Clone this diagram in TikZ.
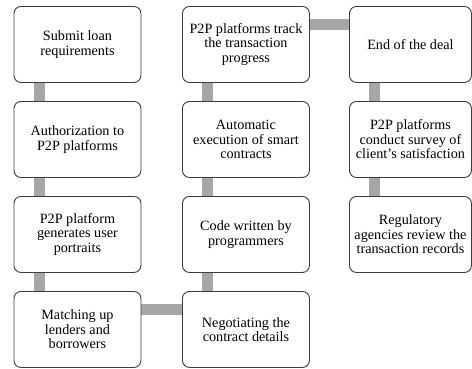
\documentclass[tikz,border=0pt]{standalone}
\usepackage{fontspec}
\setmainfont{Liberation Serif}
\usetikzlibrary{backgrounds}
\definecolor{boxline}{HTML}{3C3C3C}
\definecolor{linkgray}{HTML}{A6A6A6}
\tikzset{
  stepbox/.style={draw=boxline, line width=0.9pt, fill=white, rounded corners=7pt,
    anchor=north west, inner sep=0pt, align=center, minimum height=76pt,
    font=\fontsize{14.2}{14.6}\selectfont},
  wide/.style={minimum width=127pt},
  narrow/.style={minimum width=122pt},
  link/.style={draw=linkgray, line width=11pt},
  % vertical bar runs 25.5pt in from the left edge, horizontal bar 18.5pt below the top
  vdown/.style={xshift=25.5pt},
  hright/.style={yshift=-18.5pt},
}
\begin{document}
\begin{tikzpicture}[x=1pt,y=-1pt]
\useasboundingbox (0,0) rectangle (472,368);
% first column, top to bottom
\node[stepbox,wide] (a1) at (13.5,6)   {Submit loan\\requirements};
\node[stepbox,wide] (a2) at (13.5,101) {Authorization to\\P2P platforms};
\node[stepbox,wide] (a3) at (13.5,196) {P2P platform\\generates user\\portraits};
\node[stepbox,wide] (a4) at (13.5,291) {Matching up\\lenders and\\borrowers};
% second column, bottom to top
\node[stepbox,wide] (b4) at (182,291) {Negotiating the\\contract details};
\node[stepbox,wide] (b3) at (182,196) {Code written by\\programmers};
\node[stepbox,wide] (b2) at (182,101) {Automatic\\execution of smart\\contracts};
\node[stepbox,wide] (b1) at (182,6)   {P2P platforms track\\the transaction\\progress};
% third column, top to bottom
\node[stepbox,narrow] (c1) at (349,6)   {End of the deal};
\node[stepbox,narrow] (c2) at (349,101) {P2P platforms\\conduct survey of\\client’s satisfaction};
\node[stepbox,narrow] (c3) at (349,196) {Regulatory\\agencies review the\\transaction records};
% connecting bars, drawn behind the boxes
\begin{scope}[on background layer]
  \draw[link] ([vdown]a1.south west) -- ([vdown]a2.north west);
  \draw[link] ([vdown]a2.south west) -- ([vdown]a3.north west);
  \draw[link] ([vdown]a3.south west) -- ([vdown]a4.north west);
  \draw[link] ([hright]a4.north east) -- ([hright]b4.north west);
  \draw[link] ([vdown]b4.north west) -- ([vdown]b3.south west);
  \draw[link] ([vdown]b3.north west) -- ([vdown]b2.south west);
  \draw[link] ([vdown]b2.north west) -- ([vdown]b1.south west);
  \draw[link] ([hright]b1.north east) -- ([hright]c1.north west);
  \draw[link] ([vdown]c1.south west) -- ([vdown]c2.north west);
  \draw[link] ([vdown]c2.south west) -- ([vdown]c3.north west);
\end{scope}
\end{tikzpicture}
\end{document}
